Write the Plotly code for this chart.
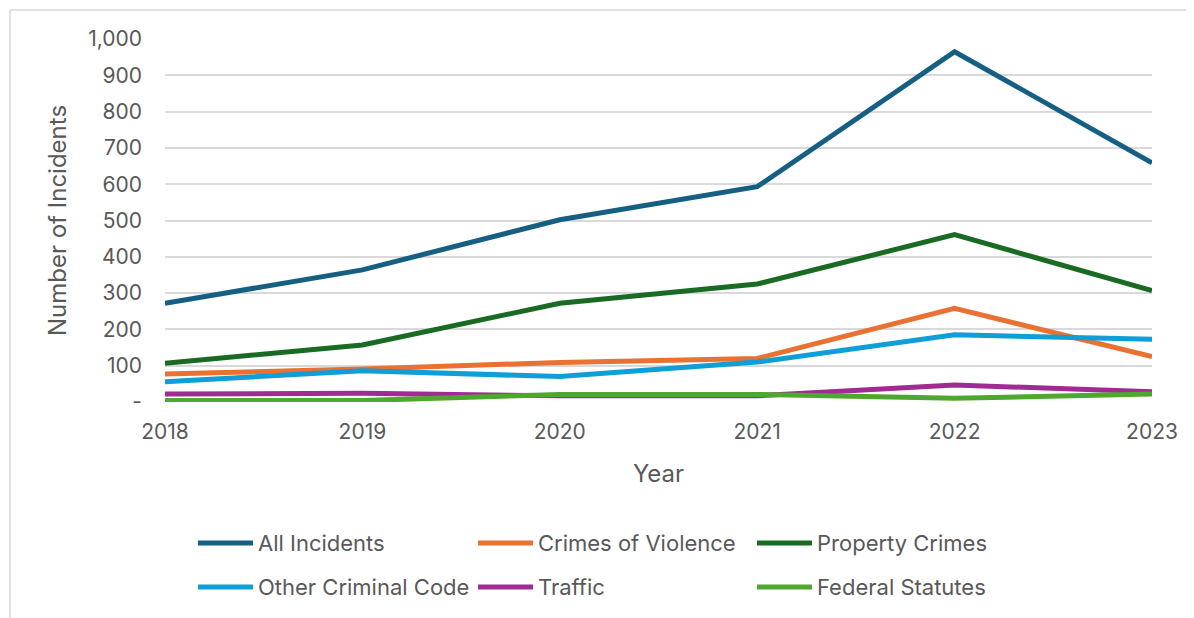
import plotly.graph_objects as go

years = [2018, 2019, 2020, 2021, 2022, 2023]
series_names = ["All Incidents", "Crimes of Violence", "Property Crimes",
                "Other Criminal Code", "Traffic", "Federal Statutes"]
all_incidents = [272, 364, 502, 593, 965, 659]
crimes_of_violence = [77, 91, 109, 120, 258, 125]
property_crimes = [107, 157, 272, 325, 461, 307]
other_criminal_code = [56, 86, 70, 110, 185, 173]
traffic = [22, 24, 17, 17, 47, 28]
federal_statutes = [4, 4, 21, 21, 10, 22]
y_tickvals = [0, 100, 200, 300, 400, 500, 600, 700, 800, 900, 1000]
y_ticktext = ["-", "100", "200", "300", "400", "500", "600", "700", "800", "900", "1,000"]
colors = ["#156082", "#E97132", "#196B24", "#0F9ED5", "#A02B93", "#4EA72E"]

values = [all_incidents, crimes_of_violence, property_crimes,
          other_criminal_code, traffic, federal_statutes]

# page body has an 8px margin; work in figure coordinates = screen - 8
OFF = 8
W, H = 1194, 618
L, T = 165 - OFF, 39 - OFF
R = W - (1152 - OFF)
B = H - (402 - OFF)
pw, ph = W - L - R, H - T - B

def px(xs):
    return (xs - OFF - L) / pw

def py(ys):
    return (H - B - (ys - OFF)) / ph

fig = go.Figure()
for name, vals, col in zip(series_names, values, colors):
    fig.add_trace(go.Scatter(x=years, y=vals, name=name, mode="lines",
                             line=dict(color=col, width=5), showlegend=False))

txt = "#595959"
font = "Inter, Roboto, sans-serif"

# manual legend (3 columns x 2 rows)
col_x = [198, 478, 757]
row_y = [543, 587]
shapes = []
annotations = []
for i, (name, col) in enumerate(zip(series_names, colors)):
    cx = col_x[i % 3]
    ry = row_y[i // 3]
    shapes.append(dict(type="line", xref="paper", yref="paper",
                       x0=px(cx), x1=px(cx + 55), y0=py(ry), y1=py(ry),
                       line=dict(color=col, width=5)))
    annotations.append(dict(text=name, xref="paper", yref="paper",
                            x=px(cx + 58), y=py(ry), xanchor="left", yanchor="middle",
                            showarrow=False, font=dict(family=font, size=22, color=txt)))

# outer border
shapes.append(dict(type="rect", xref="paper", yref="paper",
                   x0=px(10), x1=px(1230), y0=py(10), y1=py(650),
                   line=dict(color="#D9D9D9", width=1.5), layer="below"))

fig.update_layout(
    width=W, height=H,
    margin=dict(l=L, r=R, t=T, b=B, autoexpand=False),
    paper_bgcolor="white", plot_bgcolor="white",
    font=dict(family=font, color=txt, size=21),
    shapes=shapes, annotations=annotations,
    xaxis=dict(range=[2018, 2023], tickvals=years, ticktext=[str(y) for y in years],
               showgrid=False, zeroline=False, showline=False, ticks="",
               ticklabelstandoff=15,
               title=dict(text="Year", font=dict(size=24, color=txt), standoff=22),
               tickfont=dict(size=21, color=txt)),
    yaxis=dict(range=[0, 1000], tickvals=y_tickvals, ticktext=y_ticktext,
               showgrid=True, gridcolor="#D9D9D9", gridwidth=1.5,
               zeroline=False, showline=False, ticks="",
               ticklabelstandoff=22,
               title=dict(text="Number of Incidents", font=dict(size=24, color=txt), standoff=14),
               tickfont=dict(size=21, color=txt)),
)

fig.write_html("out.html")
